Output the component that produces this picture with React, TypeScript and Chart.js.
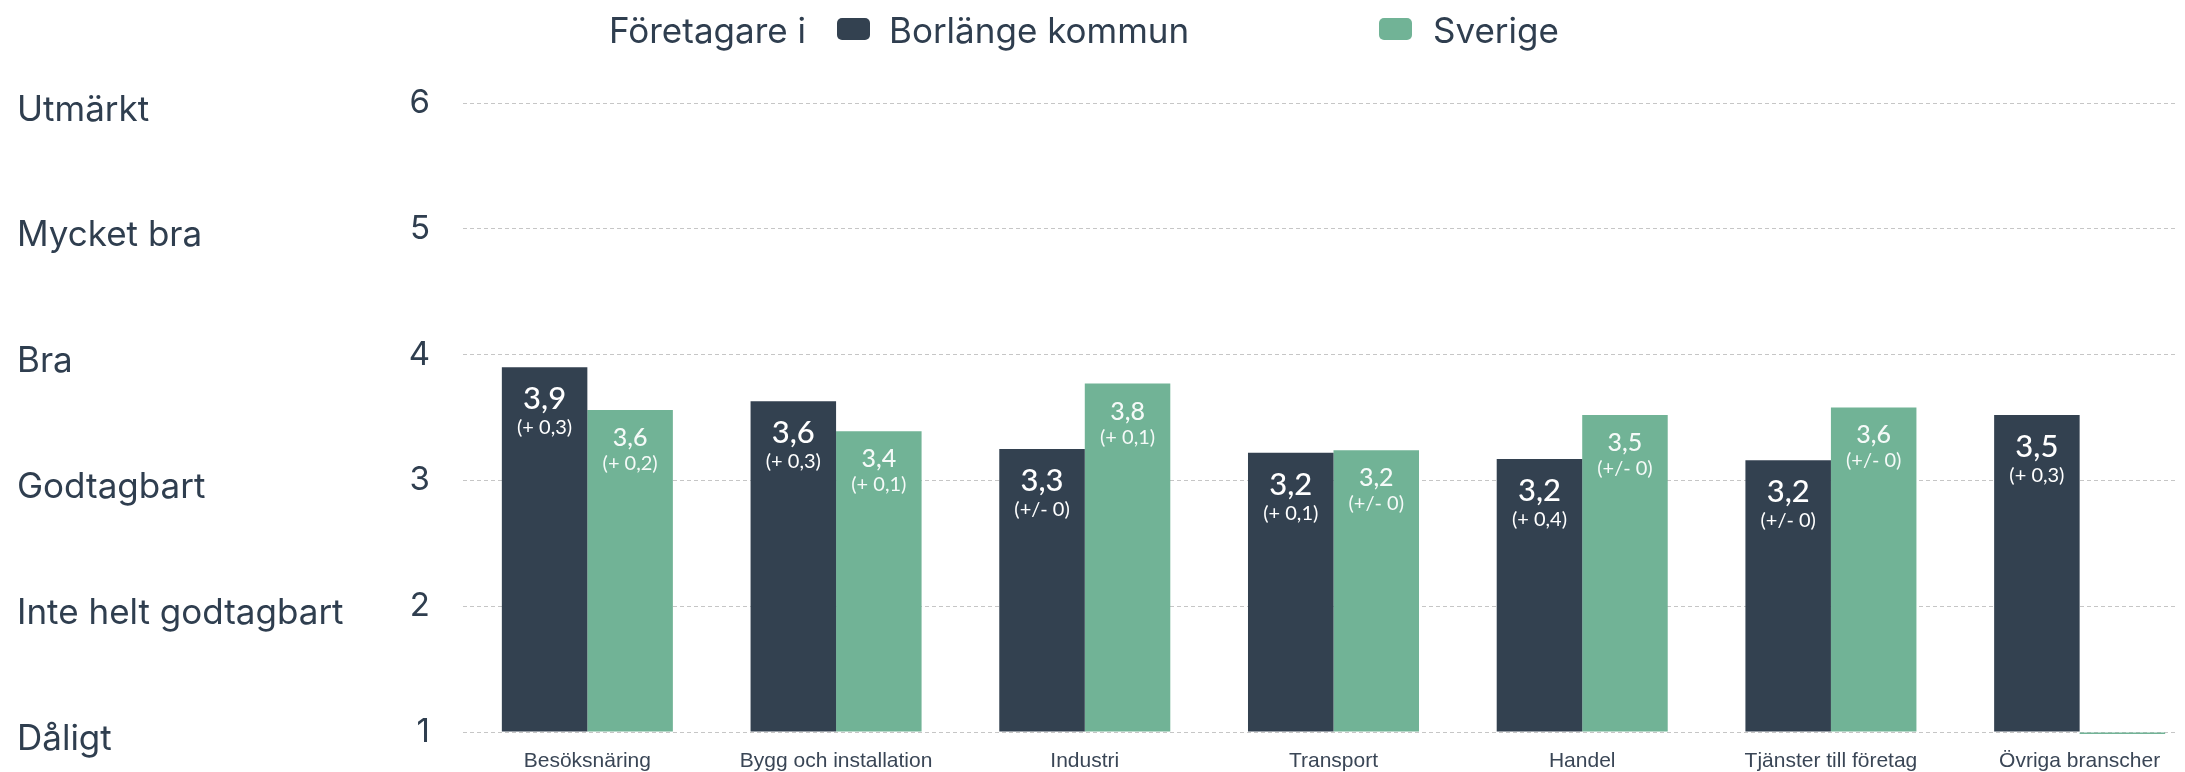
import React, { useEffect, useRef } from "react";
import { Chart, registerables } from "chart.js";

Chart.register(...registerables);

const categories = [
  "Besöksnäring",
  "Bygg och installation",
  "Industri",
  "Transport",
  "Handel",
  "Tjänster till företag",
  "Övriga branscher",
];
const seriesNames = ["Borlänge kommun", "Sverige"];
const legendTitle = "Företagare i";
const borlangeValues = [3.9, 3.63, 3.25, 3.22, 3.17, 3.16, 3.52];
const sverigeValues = [3.56, 3.39, 3.77, 3.24, 3.52, 3.58, 0.985];
const borlangeLabels = ["3,9", "3,6", "3,3", "3,2", "3,2", "3,2", "3,5"];
const borlangeDeltas = ["(+ 0,3)", "(+ 0,3)", "(+/- 0)", "(+ 0,1)", "(+ 0,4)", "(+/- 0)", "(+ 0,3)"];
const sverigeLabels = ["3,6", "3,4", "3,8", "3,2", "3,5", "3,6", ""];
const sverigeDeltas = ["(+ 0,2)", "(+ 0,1)", "(+ 0,1)", "(+/- 0)", "(+/- 0)", "(+/- 0)", ""];
const yTickValues = [1, 2, 3, 4, 5, 6];
const yTickNames = ["Dåligt", "Inte helt godtagbart", "Godtagbart", "Bra", "Mycket bra", "Utmärkt"];

const DARK = "#334150";
const GREEN = "#71b396";
const TEXT = "#2f3e4f";

const barLabelPlugin = {
  id: "barLabels",
  afterDatasetsDraw(chart: any) {
    const ctx = chart.ctx;
    const specs = [
      { labels: borlangeLabels, deltas: borlangeDeltas, vFont: "500 31px Lato", dFont: "20px Lato", vOff: 42, dOff: 67, color: "#ffffff" },
      { labels: sverigeLabels, deltas: sverigeDeltas, vFont: "500 25px Lato", dFont: "20px Lato", vOff: 36, dOff: 60, color: "rgba(255,255,255,0.93)" },
    ];
    ctx.save();
    ctx.textAlign = "center";
    ctx.textBaseline = "alphabetic";
    chart.data.datasets.forEach((_ds: any, di: number) => {
      const meta = chart.getDatasetMeta(di);
      const s = specs[di];
      meta.data.forEach((bar: any, i: number) => {
        if (!s.labels[i]) return;
        ctx.fillStyle = s.color;
        ctx.font = s.vFont;
        ctx.fillText(s.labels[i], bar.x, bar.y + s.vOff);
        ctx.font = s.dFont;
        ctx.fillText(s.deltas[i], bar.x, bar.y + s.dOff);
      });
    });
    ctx.restore();
  },
};

const legendPlugin = {
  id: "customLegend",
  afterDraw(chart: any) {
    const ctx = chart.ctx;
    ctx.save();
    ctx.font = "35px Inter";
    ctx.fillStyle = TEXT;
    ctx.textAlign = "left";
    ctx.textBaseline = "alphabetic";
    ctx.fillText(legendTitle, 601, 35);
    const items = [
      { boxX: 829, textX: 881 },
      { boxX: 1371, textX: 1425 },
    ];
    chart.data.datasets.forEach((ds: any, i: number) => {
      const it = items[i];
      ctx.fillStyle = ds.backgroundColor;
      ctx.beginPath();
      ctx.roundRect(it.boxX, 10, 33, 22, 5);
      ctx.fill();
      ctx.fillStyle = TEXT;
      ctx.fillText(ds.label, it.textX, 35);
    });
    ctx.restore();
  },
};

export default function App() {
  const canvasRef = useRef<HTMLCanvasElement | null>(null);

  useEffect(() => {
    if (!canvasRef.current) return;
    const chart = new Chart(canvasRef.current, {
      type: "bar",
      data: {
        labels: categories,
        datasets: [
          {
            label: seriesNames[0],
            data: borlangeValues,
            backgroundColor: DARK,
            borderWidth: 0,
            base: 1,
            categoryPercentage: 0.6876,
            barPercentage: 1,
          },
          {
            label: seriesNames[1],
            data: sverigeValues,
            backgroundColor: GREEN,
            borderWidth: 0,
            base: 1,
            categoryPercentage: 0.6876,
            barPercentage: 1,
            clip: { left: 0, top: 0, right: 0, bottom: 3 },
          },
        ],
      },
      options: {
        responsive: false,
        animation: false,
        devicePixelRatio: 1,
        layout: { padding: { top: 95, left: 9, right: 4, bottom: 0 } },
        plugins: {
          legend: { display: false },
          tooltip: { enabled: false },
        },
        scales: {
          x: {
            grid: { display: false },
            border: { display: false },
            ticks: {
              font: { family: "'Liberation Sans', Arial, sans-serif", size: 21 },
              color: "#3a4656",
              padding: 9,
              maxRotation: 0,
              autoSkip: false,
            },
            afterFit: (scale: any) => {
              scale.height = 40;
            },
          },
          y: {
            position: "left",
            weight: 0,
            min: 1,
            max: 6,
            grid: {
              color: "#c6c6c6",
              lineWidth: 1,
              drawTicks: true,
              tickLength: 33,
              tickColor: "rgba(0,0,0,0)",
            },
            border: { display: false, dash: [4, 3] },
            ticks: {
              stepSize: 1,
              padding: 0,
              font: { family: "Inter", size: 33 },
              color: TEXT,
              callback: (v: any) => String(v),
            },
            afterFit: (scale: any) => {
              scale.width = 113;
            },
          },
          yNames: {
            type: "linear",
            position: "left",
            weight: 1,
            min: 1,
            max: 6,
            grid: { display: false },
            border: { display: false },
            ticks: {
              stepSize: 1,
              crossAlign: "far",
              labelOffset: 7,
              padding: 0,
              font: { family: "Inter", size: 35 },
              color: TEXT,
              callback: (v: any) => {
                const idx = yTickValues.indexOf(Number(v));
                return idx >= 0 ? yTickNames[idx] : "";
              },
            },
            afterFit: (scale: any) => {
              scale.width = 333;
            },
          },
        },
      } as any,
      plugins: [barLabelPlugin, legendPlugin],
    });
    return () => chart.destroy();
  }, []);

  return (
    <div style={{ width: 2177, height: 764, overflow: "hidden", position: "relative" }}>
      <canvas ref={canvasRef} width={2200} height={764} style={{ display: "block" }} />
    </div>
  );
}
